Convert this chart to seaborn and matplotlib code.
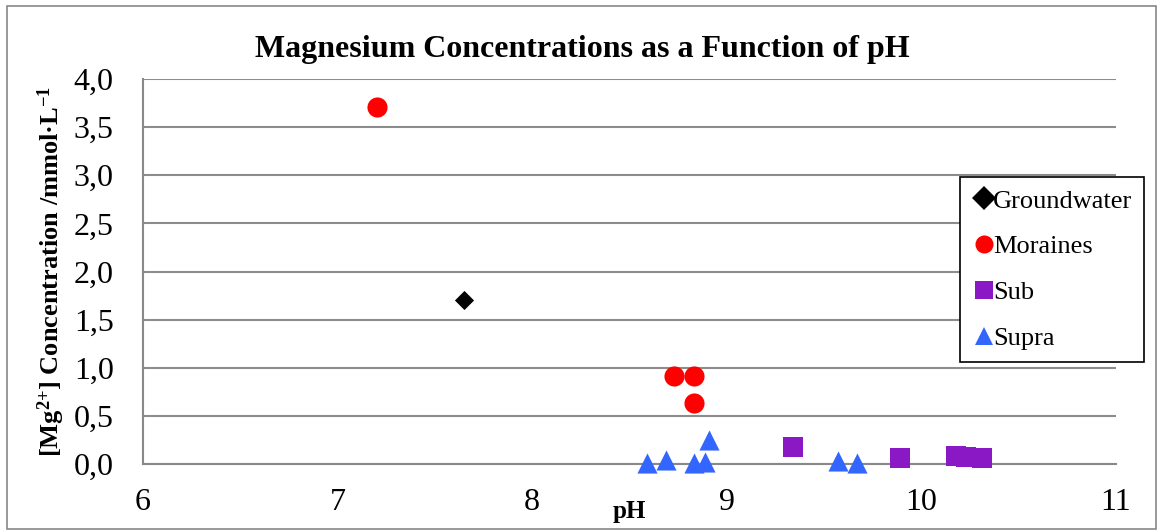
import pandas as pd
import matplotlib.pyplot as plt
import seaborn as sns
from matplotlib.patches import Rectangle
from matplotlib.lines import Line2D

# values
groundwater_ph = [7.65]
groundwater_mg = [1.70]
moraines_ph = [7.20, 8.73, 8.83, 8.83]
moraines_mg = [3.71, 0.91, 0.91, 0.63]
sub_ph = [9.34, 9.89, 10.18, 10.23, 10.31]
sub_mg = [0.175, 0.06, 0.08, 0.07, 0.06]
supra_ph = [8.59, 8.69, 8.83, 8.89, 8.91, 9.57, 9.67]
supra_mg = [0.01, 0.04, 0.01, 0.02, 0.25, 0.03, 0.01]

sites = ['Groundwater', 'Moraines', 'Sub', 'Supra']
x_ticks = [6, 7, 8, 9, 10, 11]
y_ticks = [0.0, 0.5, 1.0, 1.5, 2.0, 2.5, 3.0, 3.5, 4.0]
y_tick_labels = ['0,0', '0,5', '1,0', '1,5', '2,0', '2,5', '3,0', '3,5', '4,0']

frames = []
for name, ph, mg in [('Groundwater', groundwater_ph, groundwater_mg),
                     ('Moraines', moraines_ph, moraines_mg),
                     ('Sub', sub_ph, sub_mg),
                     ('Supra', supra_ph, supra_mg)]:
    frames.append(pd.DataFrame({'pH': ph, 'Mg': mg, 'Site': name}))
data = pd.concat(frames, ignore_index=True)

sns.set_style('white')
plt.rcParams['font.family'] = ['Liberation Serif', 'DejaVu Serif']
plt.rcParams['text.color'] = 'black'
plt.rcParams['axes.labelcolor'] = 'black'
plt.rcParams['mathtext.fontset'] = 'custom'
plt.rcParams['mathtext.bf'] = 'Liberation Serif:bold'
plt.rcParams['mathtext.rm'] = 'Liberation Serif:bold'
plt.rcParams['mathtext.default'] = 'bf'

palette = {'Groundwater': 'black', 'Moraines': '#FF0000', 'Sub': '#8B18C5', 'Supra': '#3366FF'}
markers = {'Groundwater': 'D', 'Moraines': 'o', 'Sub': 's', 'Supra': '^'}
sizes = {'Groundwater': 95, 'Moraines': 210, 'Sub': 210, 'Supra': 210}

fig = plt.figure(figsize=(11.58, 5.31), dpi=100)
ax = fig.add_axes([143 / 1158, 1 - 464 / 531, 973 / 1158, 385 / 531])

for site in sites:
    sub = data[data['Site'] == site]
    sns.scatterplot(x='pH', y='Mg', data=sub, color=palette[site], marker=markers[site],
                    s=sizes[site], linewidth=0, ax=ax, zorder=3, clip_on=False,
                    legend=False)

ax.set_xlim(6, 11)
ax.set_ylim(0, 4)
ax.set_xticks(x_ticks)
ax.set_xticklabels([str(t) for t in x_ticks])
ax.set_yticks(y_ticks)
ax.set_yticklabels(y_tick_labels)
ax.tick_params(axis='both', labelsize=23, colors='#888888', length=9, width=1.5,
               labelcolor='black', direction='out')
ax.tick_params(axis='x', pad=8)
ax.tick_params(axis='y', pad=12)
ax.grid(axis='y', color='#8c8c8c', linewidth=1.5)
ax.grid(axis='x', visible=False)
for side in ['top', 'right']:
    ax.spines[side].set_visible(False)
for side in ['left', 'bottom']:
    ax.spines[side].set_color('#888888')
    ax.spines[side].set_linewidth(1.5)

ax.set_title('Magnesium Concentrations as a Function of pH', fontsize=23,
             fontweight='bold', pad=16, x=(582 - 143) / 973)
ax.set_xlabel('pH', fontsize=18, fontweight='bold', labelpad=-12)
ax.set_ylabel(r'[Mg$^{2{+}}$] Concentration /mmol·L$^{-1}$', fontsize=19,
              fontweight='bold', labelpad=5)

handles = [Line2D([], [], linestyle='none', marker=markers[s], color=palette[s],
                  markeredgewidth=0, markersize=12 if s == 'Groundwater' else 13)
           for s in sites]
leg = ax.legend(handles, sites, loc='upper left', bbox_to_anchor=(0.840, 0.745), fontsize=19,
                frameon=True, fancybox=False, edgecolor='black', framealpha=1,
                borderaxespad=0, labelspacing=0.85, handletextpad=-0.1,
                handlelength=0.9, borderpad=0.45)
leg.get_frame().set_linewidth(1.2)
leg.set_zorder(5)

fig.patches.append(Rectangle((7 / 1158, 2 / 531), 1149 / 1158, 523 / 531,
                             transform=fig.transFigure, fill=False,
                             edgecolor='#888888', linewidth=1.2))

plt.savefig('out.png', dpi=100)
